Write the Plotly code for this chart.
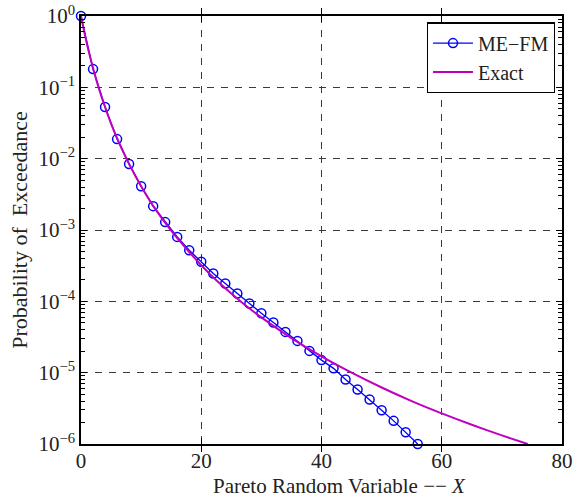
import plotly.graph_objects as go

# ME-FM approximation (markers every 2 units)
mefm_x = [0, 2, 4, 6, 8, 10, 12, 14, 16, 18, 20, 22, 24, 26, 28, 30, 32, 34, 36, 38,
          40, 42, 44, 46, 48, 50, 52, 54, 56]
mefm_y = [1.0, 0.18, 0.053, 0.0188, 0.0084, 0.0041, 0.00216, 0.00129, 0.00080, 0.00052,
          3.58e-4, 2.46e-4, 1.78e-4, 1.29e-4, 9.3e-5, 6.8e-5, 5.06e-5, 3.73e-5, 2.79e-5, 2.02e-5,
          1.50e-5, 1.15e-5, 8.0e-6, 5.8e-6, 4.2e-6, 2.98e-6, 2.11e-6, 1.46e-6, 1.0e-6]

# Exact curve
exact_x = [0, 0.5, 1, 1.5, 2, 3, 4, 5, 6, 7, 8, 10, 12, 15, 17.5, 20, 22.5, 25, 27.5, 30,
           35, 40, 45, 50, 55, 60, 65, 70, 74.3]
exact_y = [1.0, 0.62, 0.40, 0.27, 0.186, 0.095, 0.053, 0.031, 0.0194, 0.0126, 0.0084,
           0.0041, 0.00218, 9.8e-4, 5.5e-4, 3.2e-4, 1.97e-4, 1.29e-4, 8.6e-5, 5.95e-5,
           3.05e-5, 1.69e-5, 1.0e-5, 6.2e-6, 4.0e-6, 2.69e-6, 1.86e-6, 1.32e-6, 1.0e-6]

y_tickvals = [1e-6, 1e-5, 1e-4, 1e-3, 1e-2, 1e-1, 1]
y_ticktext = ["10<sup>−6</sup>", "10<sup>−5</sup>", "10<sup>−4</sup>", "10<sup>−3</sup>",
              "10<sup>−2</sup>", "10<sup>−1</sup>", "10<sup>0</sup>"]
x_tickvals = [0, 20, 40, 60, 80]
y_minor = [m * d for d in y_tickvals[:-1] for m in range(2, 10)]

FONT = "Liberation Serif, Times New Roman, serif"
TXT = "#222222"

fig = go.Figure()
fig.add_trace(go.Scatter(
    x=mefm_x, y=mefm_y, mode="lines+markers", name="ME−FM",
    line=dict(color="#0000ff", width=1.3),
    marker=dict(symbol="circle-open", size=9, color="#0000ff", line=dict(width=1.5)),
    cliponaxis=False,
))
# Exact curve lives on the overlay axis (identical log range) which also carries minor ticks
fig.add_trace(go.Scatter(
    x=exact_x, y=exact_y, mode="lines", name="Exact", yaxis="y2",
    line=dict(color="#bf00bf", width=2, shape="spline", smoothing=0.6),
    cliponaxis=False,
))

axis_common = dict(
    showline=True, linecolor="black", linewidth=1.5, mirror="allticks",
    ticks="inside", tickcolor="black", ticklen=6, tickwidth=1,
    showgrid=True, gridcolor="#3a3a3a", griddash="7px,7px", gridwidth=1,
    zeroline=False,
    tickfont=dict(family=FONT, size=21, color=TXT),
    title_font=dict(family=FONT, size=22, color=TXT),
)

fig.update_layout(
    width=584, height=497,
    margin=dict(l=81, r=22, t=16, b=53, autoexpand=False),
    paper_bgcolor="white", plot_bgcolor="white",
    font=dict(family=FONT, color=TXT),
    showlegend=True,
    legend=dict(
        x=0.985, y=0.985, xanchor="right", yanchor="top",
        bgcolor="white", bordercolor="black", borderwidth=1.2,
        font=dict(family=FONT, size=20, color=TXT),
        tracegroupgap=0, itemwidth=40,
    ),
    xaxis=dict(
        range=[0, 80], tickvals=x_tickvals, ticktext=[str(v) for v in x_tickvals],
        ticklabelstandoff=-3,
        **axis_common,
    ),
    yaxis=dict(
        type="log", range=[-6, 0], tickvals=y_tickvals, ticktext=y_ticktext,
        title=dict(text="Probability of  Exceedance", standoff=5),
        **axis_common,
    ),
    yaxis2=dict(
        type="log", range=[-6, 0], overlaying="y", side="left",
        tickmode="array", tickvals=y_minor, ticks="inside", ticklen=4, tickwidth=1,
        tickcolor="black", showticklabels=False, showgrid=False, showline=False,
        zeroline=False, mirror="ticks",
    ),
    annotations=[dict(
        text="Pareto Random Variable −− <i>X</i>",
        xref="paper", yref="paper", x=0.538, y=0, xanchor="center", yanchor="top",
        yshift=-28, showarrow=False,
        font=dict(family=FONT, size=21, color=TXT),
    )],
)

fig.write_html("out.html")
